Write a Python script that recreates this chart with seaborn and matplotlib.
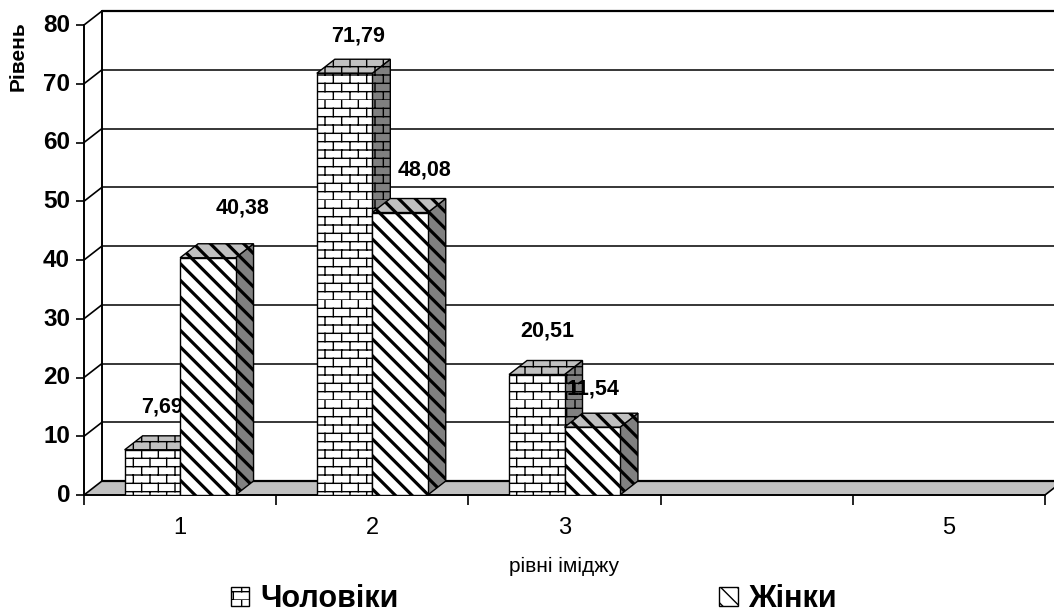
from __future__ import annotations

import matplotlib

matplotlib.use("Agg")

import matplotlib.hatch as mhatch
import matplotlib.pyplot as plt
import numpy as np
import pandas as pd
import seaborn as sns
from matplotlib.patches import Patch, Polygon
from matplotlib.path import Path
from matplotlib.transforms import ScaledTranslation

CATEGORIES = ["1", "2", "3", " ", "5"]
MEN_VALUES = [7.69, 71.79, 20.51, np.nan, np.nan]
WOMEN_VALUES = [40.38, 48.08, 11.54, np.nan, np.nan]
SERIES_NAMES = ["Чоловіки", "Жінки"]
Y_TICKS = [0, 10, 20, 30, 40, 50, 60, 70, 80]

# the pseudo-3D depth of the old Excel chart, in pixels
DEPTH_PX = (18, 14)
BRICK = "*"
STRIPES = "\\\\"
# manual label offsets from the bar top centre, in pixels
MEN_LABEL_OFFSETS = [(10, 43), (13, 37), (10, 44)]
WOMEN_LABEL_OFFSETS = [(35, 50), (24, 43), (1, 38)]


class BrickHatch(mhatch.HatchPatternBase):
    """Staggered brick wall, takes the slot of the star hatch."""

    def __init__(self, hatch, density):
        self.rows = hatch.count(BRICK) * density * 2
        self.cols = self.rows // 2
        self.num_vertices = self.rows * 2 + self.rows * self.cols * 2

    def set_vertices_and_codes(self, vertices, codes):
        cursor = 0
        for row in range(self.rows):
            y0 = row / self.rows
            y1 = (row + 1) / self.rows
            vertices[cursor] = (0, y0)
            vertices[cursor + 1] = (1, y0)
            cursor += 2
            for col in range(self.cols):
                x = (col + (row % 2) / 2) / self.cols
                vertices[cursor] = (x, y0)
                vertices[cursor + 1] = (x, y1)
                cursor += 2
        codes[0::2] = Path.MOVETO
        codes[1::2] = Path.LINETO


mhatch._hatch_types[:] = [
    h for h in mhatch._hatch_types if h is not mhatch.Stars
] + [BrickHatch]


def draw_bar_3d(ax, bar, hatch, line_width, depth, zorder):
    x0, y0 = bar.get_x(), bar.get_y()
    x1, y1 = x0 + bar.get_width(), y0 + bar.get_height()
    dx, dy = depth
    faces = [
        ("#808080", [(x1, y0), (x1 + dx, y0 + dy), (x1 + dx, y1 + dy), (x1, y1)]),
        ("#c0c0c0", [(x0, y1), (x1, y1), (x1 + dx, y1 + dy), (x0 + dx, y1 + dy)]),
    ]
    for color, corners in faces:
        face = Polygon(
            corners, closed=True, facecolor=color, edgecolor="black",
            hatch=hatch, linewidth=1.0, zorder=zorder, clip_on=False,
        )
        face.set_hatch_linewidth(line_width)
        ax.add_patch(face)
    bar.set(facecolor="white", edgecolor="black", hatch=hatch, linewidth=1.0,
            zorder=zorder + 0.1)
    bar.set_hatch_linewidth(line_width)


def draw_frame(ax, depth):
    dx, dy = depth
    xmin, xmax = ax.get_xlim()
    ymin, ymax = ax.get_ylim()
    floor = Polygon(
        [(xmin, ymin), (xmax, ymin), (xmax + dx, ymin + dy), (xmin + dx, ymin + dy)],
        closed=True, facecolor="#c0c0c0", edgecolor="none", zorder=0.5, clip_on=False,
    )
    ax.add_patch(floor)
    line = {"color": "black", "clip_on": False}
    for value in Y_TICKS:
        ax.plot([xmin, xmin + dx], [value, value + dy], lw=1.2, zorder=1, **line)
        width = 1.6 if value in (Y_TICKS[0], Y_TICKS[-1]) else 1.1
        ax.plot([xmin + dx, xmax + dx], [value + dy, value + dy], lw=width, zorder=1, **line)
    ax.plot([xmin + dx, xmin + dx], [ymin + dy, ymax + dy], lw=1.4, zorder=1, **line)
    ax.plot([xmax, xmax + dx], [ymin, ymin + dy], lw=1.2, zorder=1, **line)


def main() -> None:
    sns.set_theme(style="white")
    plt.rcParams["font.family"] = ["Liberation Sans", "DejaVu Sans"]

    table = pd.DataFrame(
        {
            "level": CATEGORIES * 2,
            "series": [SERIES_NAMES[0]] * 5 + [SERIES_NAMES[1]] * 5,
            "value": MEN_VALUES + WOMEN_VALUES,
        }
    )

    fig = plt.figure(figsize=(10.54, 6.14), dpi=100, facecolor="white")
    ax = fig.add_axes([84 / 1054, 119 / 614, 961 / 1054, 470 / 614])
    ax.set_facecolor("none")

    sns.barplot(
        data=table, x="level", y="value", hue="series", order=CATEGORIES,
        hue_order=SERIES_NAMES, width=0.577, errorbar=None, legend=False, ax=ax,
    )
    ax.set_xlim(-0.5, 4.5)
    ax.set_ylim(0, 80)

    dx = DEPTH_PX[0] * 5 / 961
    dy = DEPTH_PX[1] * 80 / 470
    depth = (dx, dy)

    draw_frame(ax, depth)

    men_bars = [c for c in ax.containers[0] if np.isfinite(c.get_height())][:3]
    women_bars = [c for c in ax.containers[1] if np.isfinite(c.get_height())][:3]
    for bar in men_bars:
        draw_bar_3d(ax, bar, BRICK, 1.0, depth, zorder=3)
    for bar in women_bars:
        draw_bar_3d(ax, bar, STRIPES, 2.3, depth, zorder=5)

    for bars, values, offsets in [
        (men_bars, MEN_VALUES, MEN_LABEL_OFFSETS),
        (women_bars, WOMEN_VALUES, WOMEN_LABEL_OFFSETS),
    ]:
        for bar, value, (off_x, off_y) in zip(bars, values, offsets):
            ax.annotate(
                f"{value:.2f}".replace(".", ","),
                (bar.get_x() + bar.get_width() / 2, bar.get_height()),
                xytext=(off_x * 0.72, off_y * 0.72), textcoords="offset points",
                ha="center", va="center", fontsize=15.5, fontweight="bold",
                color="black", zorder=4, annotation_clip=False,
            )

    for side in ("top", "right"):
        ax.spines[side].set_visible(False)
    for side in ("left", "bottom"):
        ax.spines[side].set_color("black")
        ax.spines[side].set_linewidth(1.4)
        ax.spines[side].set_zorder(2)

    ax.set_yticks(Y_TICKS)
    ax.tick_params(axis="y", length=6, width=1.2, color="black", left=True, pad=4,
                   labelsize=17.5, labelcolor="black")
    lift = ScaledTranslation(0, 1.5 / 72, fig.dpi_scale_trans)
    for label in ax.get_yticklabels():
        label.set_fontweight("bold")
        label.set_transform(label.get_transform() + lift)

    ax.set_xticks(range(len(CATEGORIES)), CATEGORIES)
    ax.set_xticks(np.arange(-0.5, 5.0), minor=True)
    ax.tick_params(axis="x", which="major", length=0, pad=15.5, labelsize=17,
                   labelcolor="black")
    ax.tick_params(axis="x", which="minor", length=7, width=1.2, color="black", bottom=True)

    ax.set_xlabel("рівні іміджу", fontsize=15, color="black")
    ax.xaxis.set_label_coords(0.5, -62 / 470)
    ax.set_ylabel("Рівень", fontsize=15, fontweight="bold", color="black")
    ax.yaxis.set_label_coords(-56 / 961, 439 / 470)

    handles = [
        Patch(facecolor="white", edgecolor="black", hatch=BRICK, linewidth=1.0),
        Patch(facecolor="white", edgecolor="black", hatch=STRIPES, linewidth=1.0),
    ]
    handles[0].set_hatch_linewidth(0.8)
    handles[1].set_hatch_linewidth(1.6)
    fig.legend(
        handles, SERIES_NAMES, ncol=2, frameon=False, loc="center left",
        bbox_to_anchor=(231 / 1054, 15 / 614), prop={"size": 22, "weight": "bold"},
        handlelength=0.6, handleheight=0.6, handletextpad=0.35, columnspacing=10.5,
        labelcolor="black", borderpad=0, borderaxespad=0,
    )

    fig.savefig("out.png", dpi=100, facecolor="white")
    plt.close(fig)


if __name__ == "__main__":
    main()
